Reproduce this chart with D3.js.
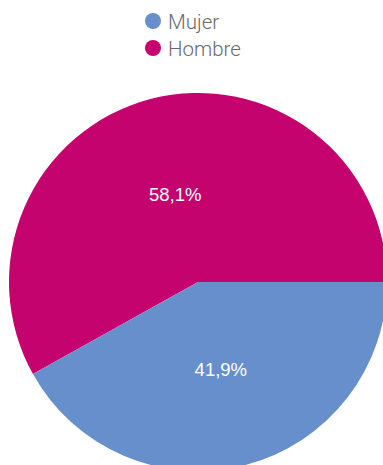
<!DOCTYPE html>
<html>
<head>
<meta charset="utf-8">
<script src="https://cdn.jsdelivr.net/npm/d3@7"></script>
<style>
  html, body { margin: 0; padding: 0; background: #fff; overflow: hidden; }
  svg { display: block; }
</style>
</head>
<body>
<svg id="chart" width="383" height="465"></svg>
<script>
// Population share by sex (%)
const categories = ["Mujer", "Hombre"];
const values = [41.9, 58.1];
const labels = ["41,9%", "58,1%"];
const colors = ["#668fcb", "#c4036e"];

const width = 383, height = 465;
const cx = 198, cy = 282, radius = 189;

const svg = d3.select("#chart");

// Legend
const legend = svg.append("g").attr("transform", "translate(153,21)");
categories.forEach((c, i) => {
  const row = legend.append("g").attr("transform", `translate(0,${i * 27})`);
  row.append("circle").attr("r", 8).attr("fill", colors[i]);
  row.append("text")
    .attr("x", 15).attr("y", 7.5)
    .attr("font-family", "Roboto, 'Liberation Sans', sans-serif")
    .attr("font-weight", 300)
    .attr("font-size", 20.5)
    .attr("fill", "#6a6a6a")
    .text(c);
});

// Pie: Hombre runs counter-clockwise from 3 o'clock, Mujer fills the rest
const total = d3.sum(values);
const hombre = values[categories.indexOf("Hombre")];
const start = Math.PI / 2 - 2 * Math.PI * hombre / total;
const order = [1, 0];
const pie = d3.pie()
  .sort(null)
  .value(i => values[i])
  .startAngle(start)
  .endAngle(start + 2 * Math.PI);
const arcs = pie(order);

const arc = d3.arc().innerRadius(0).outerRadius(radius);
const labelArc = d3.arc().innerRadius(radius * 0.48).outerRadius(radius * 0.48);

const g = svg.append("g").attr("transform", `translate(${cx},${cy})`);
g.selectAll("path")
  .data(arcs)
  .join("path")
  .attr("d", arc)
  .attr("fill", d => colors[d.data]);

g.selectAll("text.val")
  .data(arcs)
  .join("text")
  .attr("class", "val")
  .attr("transform", d => `translate(${labelArc.centroid(d)})`)
  .attr("text-anchor", "middle")
  .attr("dy", "0.35em")
  .attr("font-family", "'Liberation Sans', Arial, sans-serif")
  .attr("font-size", 18.5)
  .attr("fill", "#ffffff")
  .text(d => labels[d.data]);
</script>
</body>
</html>
